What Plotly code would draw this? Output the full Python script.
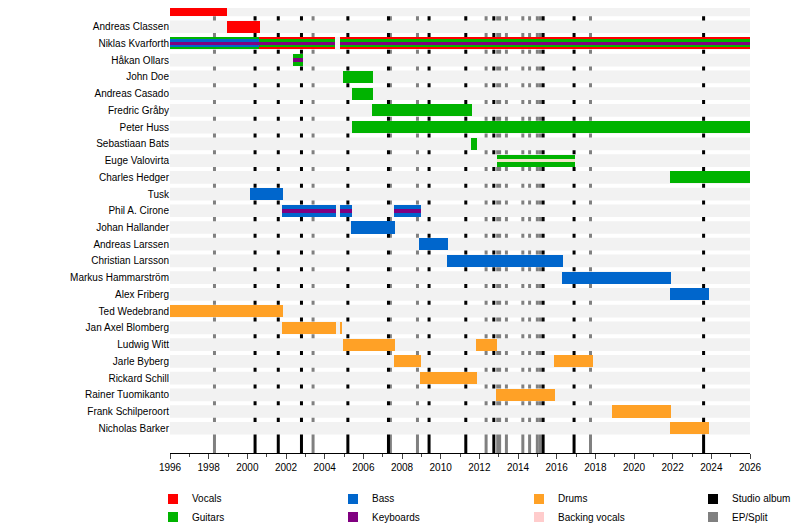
import plotly.graph_objects as go

# Members, top to bottom
members = ["Robert Ayddan", "Andreas Classen", "Niklas Kvarforth", "Håkan Ollars", "John Doe",
           "Andreas Casado", "Fredric Gråby", "Peter Huss", "Sebastiaan Bats", "Euge Valovirta",
           "Charles Hedger", "Tusk", "Phil A. Cirone", "Johan Hallander", "Andreas Larssen",
           "Christian Larsson", "Markus Hammarström", "Alex Friberg", "Ted Wedebrand",
           "Jan Axel Blomberg", "Ludwig Witt", "Jarle Byberg", "Rickard Schill",
           "Rainer Tuomikanto", "Frank Schilperoort", "Nicholas Barker"]

# (member, start, end, role)
periods = [
    ("Robert Ayddan", 1996.0, 1998.95, "Vocals"),
    ("Andreas Classen", 1998.95, 2000.65, "Vocals"),
    ("Niklas Kvarforth", 1996.0, 2000.6, "Guitars"),
    ("Niklas Kvarforth", 2000.6, 2004.55, "Vocals"),
    ("Niklas Kvarforth", 2004.8, 2026.0, "Vocals"),
    ("Håkan Ollars", 2002.35, 2002.9, "Guitars"),
    ("John Doe", 2004.95, 2006.5, "Guitars"),
    ("Andreas Casado", 2005.4, 2006.5, "Guitars"),
    ("Fredric Gråby", 2006.45, 2011.6, "Guitars"),
    ("Peter Huss", 2005.4, 2026.0, "Guitars"),
    ("Sebastiaan Bats", 2011.55, 2011.9, "Guitars"),
    ("Euge Valovirta", 2012.9, 2016.95, "Guitars"),
    ("Charles Hedger", 2021.85, 2026.0, "Guitars"),
    ("Tusk", 2000.15, 2001.85, "Bass"),
    ("Phil A. Cirone", 2001.8, 2004.6, "Bass"),
    ("Phil A. Cirone", 2004.8, 2005.4, "Bass"),
    ("Phil A. Cirone", 2007.6, 2009.0, "Bass"),
    ("Johan Hallander", 2005.35, 2007.65, "Bass"),
    ("Andreas Larssen", 2008.9, 2010.4, "Bass"),
    ("Christian Larsson", 2010.35, 2016.35, "Bass"),
    ("Markus Hammarström", 2016.3, 2021.9, "Bass"),
    ("Alex Friberg", 2021.85, 2023.9, "Bass"),
    ("Ted Wedebrand", 1996.0, 2001.85, "Drums"),
    ("Jan Axel Blomberg", 2001.8, 2004.6, "Drums"),
    ("Jan Axel Blomberg", 2004.8, 2004.9, "Drums"),
    ("Ludwig Witt", 2004.95, 2007.65, "Drums"),
    ("Ludwig Witt", 2011.85, 2012.9, "Drums"),
    ("Jarle Byberg", 2007.6, 2009.0, "Drums"),
    ("Jarle Byberg", 2015.85, 2017.9, "Drums"),
    ("Rickard Schill", 2008.95, 2011.9, "Drums"),
    ("Rainer Tuomikanto", 2012.85, 2015.9, "Drums"),
    ("Frank Schilperoort", 2018.85, 2021.9, "Drums"),
    ("Nicholas Barker", 2021.85, 2023.9, "Drums"),
]

# secondary stripes (member, start, end, role, layer): layer 1 = inner, 2 = innermost
stripes = [
    ("Niklas Kvarforth", 1996.0, 2000.6, "Bass", 1),
    ("Niklas Kvarforth", 1996.0, 2000.6, "Keyboards", 2),
    ("Niklas Kvarforth", 2000.6, 2004.55, "Guitars", 1),
    ("Niklas Kvarforth", 2000.6, 2004.55, "Keyboards", 2),
    ("Niklas Kvarforth", 2004.8, 2026.0, "Guitars", 1),
    ("Niklas Kvarforth", 2004.8, 2026.0, "Keyboards", 2),
    ("Håkan Ollars", 2002.35, 2002.9, "Keyboards", 2),
    ("Euge Valovirta", 2012.9, 2016.95, "Backing vocals", 2),
    ("Phil A. Cirone", 2001.8, 2004.6, "Keyboards", 2),
    ("Phil A. Cirone", 2004.8, 2005.4, "Keyboards", 2),
    ("Phil A. Cirone", 2007.6, 2009.0, "Keyboards", 2),
]

studio_albums = [2000.4, 2001.6, 2002.8, 2005.2, 2007.3, 2009.4, 2011.3, 2012.75, 2015.3, 2016.9, 2023.6]
ep_splits = [1998.3, 2003.4, 2007.4, 2008.8, 2012.35, 2012.95, 2013.05, 2013.4, 2014.25, 2014.6, 2015.0, 2015.15, 2017.75]

colors = {"Vocals": "#ff0000", "Guitars": "#00b300", "Bass": "#0066cc", "Keyboards": "#800080",
          "Drums": "#ffa126", "Backing vocals": "#f0e6c8"}
legend_items = [("Vocals", "#ff0000"), ("Guitars", "#00b300"), ("Bass", "#0066cc"),
                ("Keyboards", "#800080"), ("Drums", "#ffa126"), ("Backing vocals", "#ffcccc"),
                ("Studio album", "#000000"), ("EP/Split", "#808080")]

idx = {m: i for i, m in enumerate(members)}
fig = go.Figure()

def add_bars(rows, width):
    for m, s, e, role in rows:
        fig.add_trace(go.Bar(y=[idx[m]], x=[e - s], base=[s], orientation="h", width=width,
                             marker=dict(color=colors[role], line_width=0), showlegend=False,
                             hovertemplate=f"{m}<br>{role}<extra></extra>"))

add_bars(periods, 0.72)
add_bars([r[:4] for r in stripes if r[4] == 1], 0.48)
add_bars([r[:4] for r in stripes if r[4] == 2], 0.22)

shapes = []
for i in range(len(members)):
    shapes.append(dict(type="rect", xref="x", yref="y", x0=1996, x1=2026, y0=i - 0.38, y1=i + 0.38,
                       fillcolor="#f2f2f2", line_width=0, layer="below"))
for x in ep_splits:
    shapes.append(dict(type="line", xref="x", yref="paper", x0=x, x1=x, y0=0, y1=1,
                       line=dict(color="#808080", width=3), layer="between"))
for x in studio_albums:
    shapes.append(dict(type="line", xref="x", yref="paper", x0=x, x1=x, y0=0, y1=1,
                       line=dict(color="#000000", width=3), layer="between"))

# legend drawn by hand below the plot (page is offset by 8px)
PH = 445
annotations = []
leg_x = [168, 348, 534, 708]
leg_y = [499, 517]
for k, (name, col) in enumerate(legend_items):
    px = leg_x[k // 2]
    py = leg_y[k % 2] - 8
    shapes.append(dict(type="rect", xref="paper", yref="paper",
                       x0=(px - 170) / 580, x1=(px + 10 - 170) / 580,
                       y0=(PH - py - 5) / PH, y1=(PH - py + 5) / PH,
                       fillcolor=col, line_width=0))
    annotations.append(dict(xref="paper", yref="paper", x=(px + 22 - 170) / 580, y=(PH - py) / PH,
                            text=name, showarrow=False, xanchor="left", yanchor="middle",
                            font=dict(size=10, color="black")))

fig.update_layout(
    width=792, height=522, barmode="overlay", bargap=0,
    margin=dict(l=162, r=50, t=0, b=77),
    plot_bgcolor="white", paper_bgcolor="white",
    font=dict(family="Liberation Sans, Arial, sans-serif", size=10, color="black"),
    xaxis=dict(range=[1996, 2026], tickmode="linear", tick0=1996, dtick=2, showgrid=False,
               ticks="outside", ticklen=5, showline=True, linecolor="black", zeroline=False,
               minor=dict(dtick=1, ticks="outside", ticklen=3)),
    yaxis=dict(range=[26.48, -0.12], tickmode="array", tickvals=list(range(len(members))),
               ticktext=members, showgrid=False, zeroline=False, showline=False, ticks=""),
    shapes=shapes, annotations=annotations,
)

fig.write_html("out.html")
